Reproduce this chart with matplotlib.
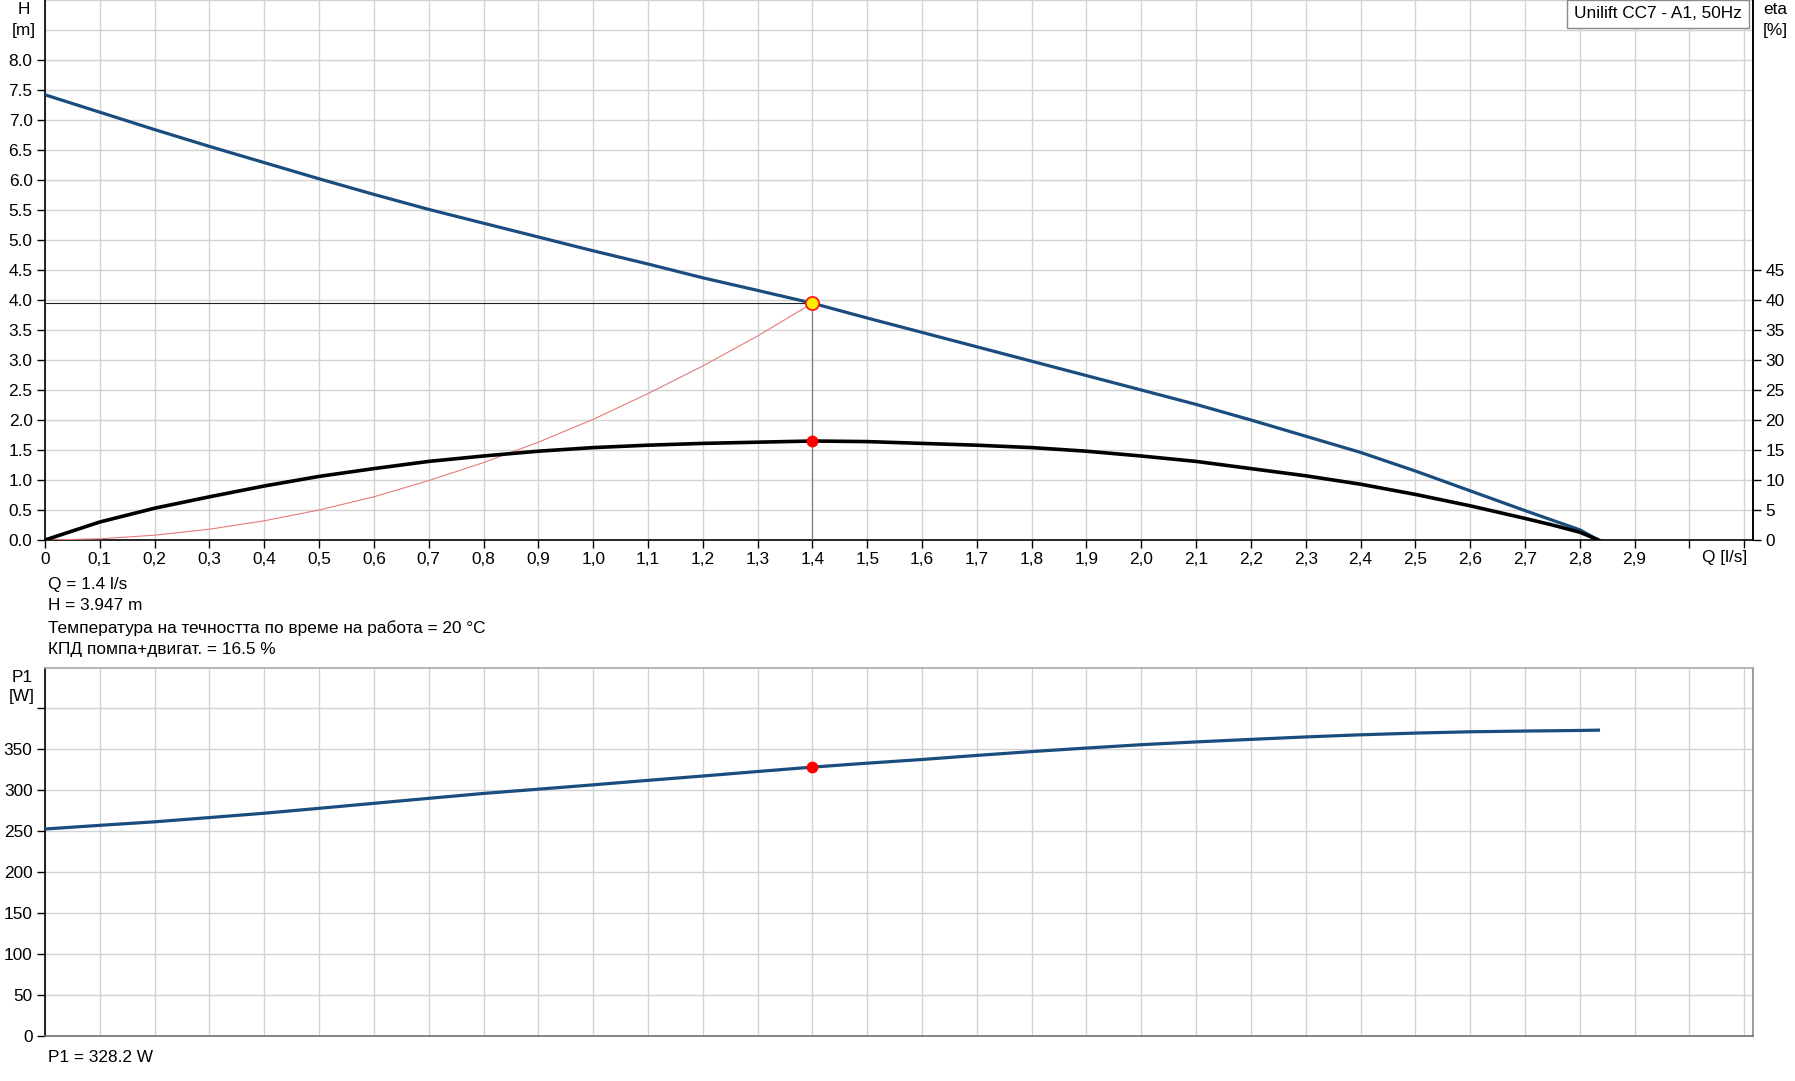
import numpy as np
import matplotlib
matplotlib.use("Agg")
import matplotlib.pyplot as plt

plt.rcParams['font.family'] = ['Liberation Sans', 'DejaVu Sans']
FS = 12.4

# ---------------- data ----------------
q_h = [0.0, 0.1, 0.2, 0.3, 0.4, 0.5, 0.6, 0.7, 0.8, 0.9, 1.0, 1.1, 1.2, 1.3, 1.4,
       1.5, 1.6, 1.7, 1.8, 1.9, 2.0, 2.1, 2.2, 2.3, 2.4, 2.5, 2.6, 2.7, 2.75, 2.8, 2.834]
head = [7.42, 7.13, 6.84, 6.56, 6.29, 6.02, 5.76, 5.51, 5.28, 5.05, 4.82, 4.60, 4.37, 4.16, 3.947,
        3.70, 3.46, 3.22, 2.98, 2.74, 2.50, 2.26, 2.00, 1.73, 1.46, 1.15, 0.82, 0.49, 0.33, 0.17, 0.0]
eta = [0.0, 3.0, 5.3, 7.2, 9.0, 10.6, 11.9, 13.1, 14.0, 14.8, 15.4, 15.8, 16.1, 16.3, 16.5,
       16.4, 16.1, 15.8, 15.4, 14.8, 14.0, 13.1, 11.9, 10.7, 9.3, 7.6, 5.7, 3.6, 2.5, 1.3, 0.0]
q_sys = [0.0, 0.1, 0.2, 0.3, 0.4, 0.5, 0.6, 0.7, 0.8, 0.9, 1.0, 1.1, 1.2, 1.3, 1.4]
h_sys = [0.0, 0.02, 0.08, 0.18, 0.32, 0.50, 0.72, 0.99, 1.29, 1.63, 2.01, 2.44, 2.90, 3.40, 3.947]
q_p = [0.0, 0.1, 0.2, 0.3, 0.4, 0.5, 0.6, 0.7, 0.8, 0.9, 1.0, 1.1, 1.2, 1.3, 1.4,
       1.5, 1.6, 1.7, 1.8, 1.9, 2.0, 2.1, 2.2, 2.3, 2.4, 2.5, 2.6, 2.7, 2.8, 2.834]
p1 = [252.5, 257.0, 261.3, 266.5, 271.8, 277.8, 283.9, 290.0, 296.0, 301.2, 306.5, 312.0, 317.3, 322.8, 328.2,
      333.0, 337.5, 342.5, 347.2, 351.5, 355.6, 359.0, 362.1, 365.1, 367.7, 369.8, 371.4, 372.3, 373.0, 373.4]

q_op = 1.4
h_op = 3.947
eta_op = 16.5
p1_op = 328.2

x_ticks = [round(0.1 * i, 1) for i in range(32)]
x_labels = ['0'] + [f"{v:.1f}".replace('.', ',') for v in x_ticks[1:30]] + ['', '']
h_ticks = [0.5 * i for i in range(17)]
h_labels = [f"{v:.1f}" for v in h_ticks]
eta_ticks = [5 * i for i in range(10)]
p_ticks = [50 * i for i in range(9)]
p_labels = [str(v) for v in p_ticks[:-1]] + ['']

info_lines = ["Q = 1.4 l/s", "H = 3.947 m",
              "Температура на течността по време на работа = 20 °C",
              "КПД помпа+двигат. = 16.5 %"]
title = "Unilift CC7 - A1, 50Hz"

# ---------------- figure ----------------
W, H = 1795, 1081
fig = plt.figure(figsize=(W / 100, H / 100), dpi=100)

def fx(px):
    return px / W

def fy(py):
    return 1 - py / H

left, right = 45, 1753
XMAX = 3.116
BLUE = '#1a4d7e'
GRID = '#d3d3d3'

ax = fig.add_axes([fx(left), fy(540), fx(right - left), 540 / H])
ax.set_xlim(0, XMAX)
ax.set_ylim(0, 9)
ax.set_xticks(x_ticks)
ax.set_xticklabels(x_labels, fontsize=FS)
ax.set_yticks(h_ticks)
ax.set_yticklabels(h_labels, fontsize=FS)
ax.set_yticks([8.5, 9.0], minor=True)
ax.tick_params(axis='y', which='minor', length=0)
ax.tick_params(axis='both', which='major', length=6, width=1, direction='out', pad=3)
ax.grid(True, which='both', color=GRID, linewidth=1.0)
ax.set_axisbelow(True)
for s in ['left', 'bottom']:
    ax.spines[s].set_color('black')
    ax.spines[s].set_linewidth(1.2)
ax.spines['top'].set_visible(False)
ax.spines['right'].set_color('black')
ax.spines['right'].set_linewidth(1.2)

ax.plot(q_sys, h_sys, color='#e87a78', linewidth=0.8, zorder=3)
ax.plot(q_h, head, color=BLUE, linewidth=2.3, zorder=4, solid_capstyle='butt')
ax.plot([0, q_op], [h_op, h_op], color='#222222', linewidth=0.8, zorder=3)
ax.plot([q_op, q_op], [0, h_op], color='#808080', linewidth=0.9, zorder=3)
ax.plot([q_op], [h_op], marker='o', markersize=9.5, markerfacecolor='#ffee00',
        markeredgecolor='#ff1a1a', markeredgewidth=1.3, zorder=6)

ax2 = ax.twinx()
ax2.set_ylim(0, 90)
ax2.set_yticks(eta_ticks)
ax2.set_yticklabels([str(v) for v in eta_ticks], fontsize=FS)
ax2.tick_params(axis='y', length=6, width=1, direction='out', pad=3)
for s in ['left', 'top', 'bottom']:
    ax2.spines[s].set_visible(False)
ax2.spines['right'].set_color('black')
ax2.spines['right'].set_linewidth(1.2)
ax2.plot(q_h, eta, color='black', linewidth=2.6, zorder=4)
ax2.plot([q_op], [eta_op], marker='o', markersize=8.5, color='#ff0000',
         markeredgewidth=0, zorder=6)

ax.text(0.9965, -0.032, "Q [l/s]", transform=ax.transAxes, ha='right', va='center',
        fontsize=FS)

fig.text(fx(24), fy(10), "H", ha='center', va='center', fontsize=FS)
fig.text(fx(24), fy(30), "[m]", ha='center', va='center', fontsize=FS)
fig.text(fx(1775), fy(10), "eta", ha='center', va='center', fontsize=FS)
fig.text(fx(1775), fy(30), "[%]", ha='center', va='center', fontsize=FS)
fig.text(fx(1658), fy(14), title, ha='center', va='center', fontsize=FS,
         bbox=dict(boxstyle='square,pad=0.4', facecolor='white', edgecolor='#8a8a8a',
                   linewidth=1.0), zorder=10)

for i, line in enumerate(info_lines):
    fig.text(fx(48), fy(584 + 21.8 * i), line, ha='left', va='center', fontsize=FS)

# ---------------- bottom chart ----------------
bx = fig.add_axes([fx(left), fy(1035.5), fx(right - left), 368 / H])
bx.set_xlim(0, XMAX)
bx.set_ylim(0, 450)
bx.set_xticks(x_ticks)
bx.set_xticklabels([])
bx.tick_params(axis='x', length=0)
bx.set_yticks(p_ticks)
bx.set_yticklabels(p_labels, fontsize=FS)
bx.tick_params(axis='y', length=6, width=1, direction='out', pad=3)
bx.grid(True, color=GRID, linewidth=1.0)
bx.set_axisbelow(True)
bx.spines['left'].set_color('black')
bx.spines['left'].set_linewidth(1.2)
bx.spines['bottom'].set_color('#707070')
bx.spines['bottom'].set_linewidth(1.2)
bx.spines['top'].set_color('#a8a8a8')
bx.spines['top'].set_linewidth(1.2)
bx.spines['right'].set_color('#8a8a8a')
bx.spines['right'].set_linewidth(1.2)

bx.plot(q_p, p1, color=BLUE, linewidth=2.3, zorder=4)
bx.plot([q_op], [p1_op], marker='o', markersize=8.5, color='#ff0000',
        markeredgewidth=0, zorder=6)

fig.text(fx(22), fy(677), "P1", ha='center', va='center', fontsize=FS)
fig.text(fx(22), fy(697), "[W]", ha='center', va='center', fontsize=FS)
fig.text(fx(48), fy(1057), f"P1 = {p1_op} W", ha='left', va='center', fontsize=FS)

fig.savefig("out.png", dpi=100, facecolor='white')
